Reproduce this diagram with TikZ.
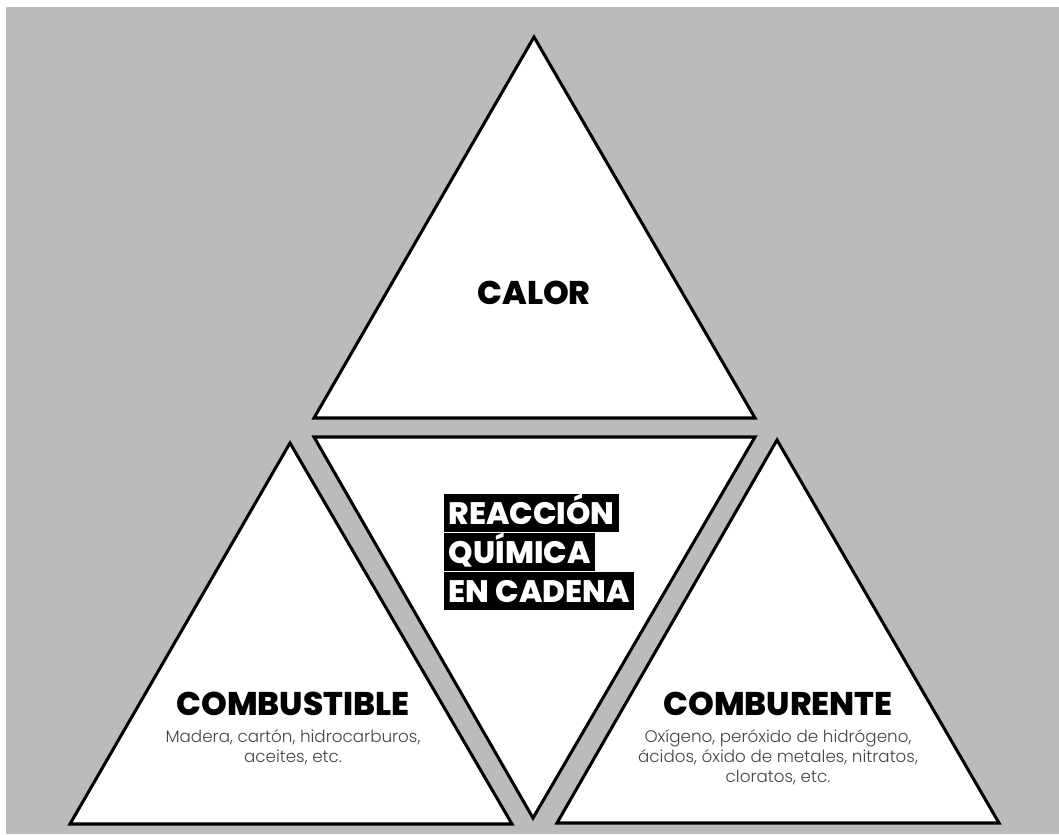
\documentclass[tikz,border=0pt]{standalone}
\usepackage{fontspec}
\setmainfont{Poppins}
\newfontfamily\heavyfont{Poppins ExtraBold}
\newfontfamily\thinfont{Poppins Light}
\usetikzlibrary{positioning}
\definecolor{bggray}{RGB}{187,187,187}
\definecolor{notegray}{RGB}{70,70,70}

\begin{document}
\begin{tikzpicture}[x=0.03cm,y=-0.03cm,
  piece/.style={draw=black,fill=white,line width=2.6pt,line join=miter},
  title/.style={font=\heavyfont\fontsize{28}{30}\selectfont,inner sep=0pt},
  band/.style={fill=black,text=white,anchor=west,font=\heavyfont\fontsize{26.5}{28}\selectfont,
    inner xsep=4pt,inner ysep=0pt,text height=25.6pt,text depth=6.8pt},
  note/.style={font=\thinfont\fontsize{14.3}{17}\selectfont,text=notegray,align=center,inner sep=0pt}]
\useasboundingbox (0,0) rectangle (1059,834);
\fill[bggray] (6,7) rectangle (1059,834);

% Corners of the four pieces.
\coordinate (calor-top) at (534,37);
\coordinate (calor-l) at (314,418);
\coordinate (calor-r) at (755,418);
\coordinate (mid-l) at (314,437);
\coordinate (mid-r) at (755,437);
\coordinate (mid-b) at (533,818);
\coordinate (fuel-top) at (290,443);
\coordinate (fuel-l) at (70,824);
\coordinate (fuel-r) at (512,824);
\coordinate (oxy-top) at (777,440);
\coordinate (oxy-l) at (557,823);
\coordinate (oxy-r) at (999,823);

\draw[piece] (calor-top) -- (calor-r) -- (calor-l) -- cycle;
\draw[piece] (mid-l) -- (mid-r) -- (mid-b) -- cycle;
\draw[piece] (fuel-top) -- (fuel-r) -- (fuel-l) -- cycle;
\draw[piece] (oxy-top) -- (oxy-r) -- (oxy-l) -- cycle;

% Labels.
\node[title] (calor) at (534,293) {CALOR};

\node[band] (chain1) at (444,513) {REACCIÓN};
\node[band] (chain2) at (444,552) {QUÍMICA};
\node[band] (chain3) at (444,591) {EN CADENA};

\node[title] (fuel) at (293,704) {COMBUSTIBLE};
\node[note,below=11pt of fuel] (fuel-note) {Madera, cartón, hidrocarburos,\\aceites, etc.};

\node[title] (oxy) at (778,704) {COMBURENTE};
\node[note,below=11pt of oxy] (oxy-note) {Oxígeno, peróxido de hidrógeno,\\ácidos, óxido de metales, nitratos,\\cloratos, etc.};
\end{tikzpicture}
\end{document}
